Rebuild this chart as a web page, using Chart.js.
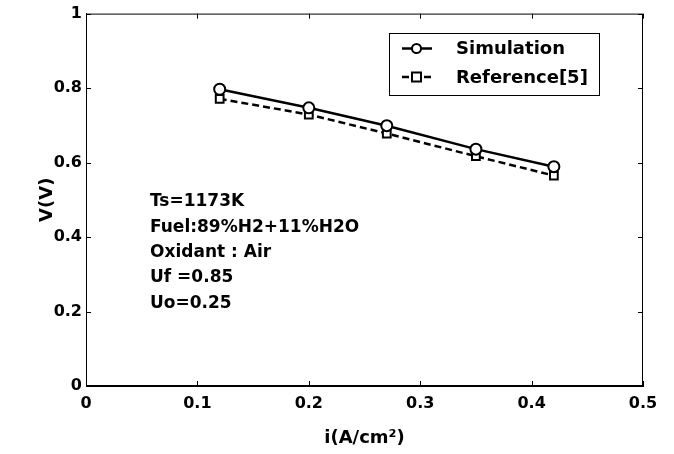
<!DOCTYPE html>
<html>
<head>
<meta charset="utf-8">
<script src="https://cdn.jsdelivr.net/npm/chart.js@4/dist/chart.umd.min.js"></script>
<style>
html,body{margin:0;padding:0;background:#fff;}
#wrap{width:674px;height:454px;}
</style>
</head>
<body>
<div id="wrap"><canvas id="c" width="674" height="454"></canvas></div>
<script>
const currentDensity = [0.12, 0.2, 0.27, 0.35, 0.42];
const simulationV = [0.797, 0.747, 0.699, 0.636, 0.589];
const referenceV = [0.771, 0.729, 0.678, 0.617, 0.565];
const xTickValues = [0, 0.1, 0.2, 0.3, 0.4, 0.5];
const xTickLabels = ['0', '0.1', '0.2', '0.3', '0.4', '0.5'];
const yTickValues = [0, 0.2, 0.4, 0.6, 0.8, 1];
const yTickLabels = ['0', '0.2', '0.4', '0.6', '0.8', '1'];
const seriesNames = ['Simulation', 'Reference[5]'];
const annotationLines = ['Ts=1173K', 'Fuel:89%H2+11%H2O', 'Oxidant : Air', 'Uf =0.85', 'Uo=0.25'];

const FONT = '"DejaVu Sans", sans-serif';

function labelFor(values, labels, v) {
  for (let i = 0; i < values.length; i++) if (Math.abs(values[i] - v) < 1e-9) return labels[i];
  return '';
}

const framePlugin = {
  id: 'frame',
  afterDatasetsDraw(chart) {
    const ctx = chart.ctx, a = chart.chartArea;
    const xs = chart.scales.x, ys = chart.scales.y;
    ctx.save();
    ctx.strokeStyle = '#000';
    ctx.lineWidth = 1;
    ctx.strokeRect(a.left + 0.5, a.top + 0.5, a.right - a.left - 1, a.bottom - a.top - 1);
    const L = 5;
    ctx.beginPath();
    xTickValues.forEach(v => {
      const px = Math.round(xs.getPixelForValue(v)) + 0.5;
      ctx.moveTo(px, a.bottom); ctx.lineTo(px, a.bottom - L);
      ctx.moveTo(px, a.top); ctx.lineTo(px, a.top + L);
    });
    yTickValues.forEach(v => {
      const py = Math.round(ys.getPixelForValue(v)) + 0.5;
      ctx.moveTo(a.left, py); ctx.lineTo(a.left + L, py);
      ctx.moveTo(a.right, py); ctx.lineTo(a.right - L, py);
    });
    ctx.stroke();
    ctx.restore();
  },
  afterDraw(chart) {
    const ctx = chart.ctx;
    ctx.save();
    ctx.fillStyle = '#000';
    ctx.font = 'bold 17px ' + FONT;
    ctx.textBaseline = 'middle';
    ctx.textAlign = 'left';
    annotationLines.forEach((t, i) => {
      ctx.fillText(t, 150, 202 + i * 25.3);
    });
    const bx = 389, by = 33, bw = 210, bh = 62;
    ctx.fillStyle = '#fff';
    ctx.fillRect(bx, by, bw, bh);
    ctx.strokeStyle = '#000';
    ctx.lineWidth = 1;
    ctx.strokeRect(bx + 0.5, by + 0.5, bw, bh);
    const rows = [48.5, 77];
    chart.data.datasets.forEach((ds, i) => {
      const y = rows[i];
      ctx.strokeStyle = '#000';
      ctx.lineWidth = 2.5;
      ctx.setLineDash(ds.borderDash || []);
      ctx.beginPath();
      ctx.moveTo(402, y); ctx.lineTo(432, y);
      ctx.stroke();
      ctx.setLineDash([]);
      ctx.lineWidth = 2;
      ctx.fillStyle = '#fff';
      if (ds.pointStyle === 'rect') {
        ctx.fillRect(412, y - 4.5, 9, 9);
        ctx.strokeRect(412, y - 4.5, 9, 9);
      } else {
        ctx.beginPath();
        ctx.arc(416.5, y, 4.5, 0, Math.PI * 2);
        ctx.fill(); ctx.stroke();
      }
      ctx.fillStyle = '#000';
      ctx.font = 'bold 18px ' + FONT;
      ctx.textBaseline = 'middle';
      ctx.fillText(ds.label, 456, y + 1);
    });
    ctx.restore();
  }
};

new Chart(document.getElementById('c'), {
  type: 'line',
  data: {
    datasets: [
      {
        label: seriesNames[0],
        data: currentDensity.map((x, i) => ({x: x, y: simulationV[i]})),
        borderColor: '#000',
        borderWidth: 2.5,
        pointStyle: 'circle',
        pointRadius: 5.5,
        pointBorderWidth: 2,
        pointBackgroundColor: '#fff',
        pointBorderColor: '#000',
        tension: 0,
        fill: false
      },
      {
        label: seriesNames[1],
        data: currentDensity.map((x, i) => ({x: x, y: referenceV[i]})),
        borderColor: '#000',
        borderWidth: 2.5,
        borderDash: [7, 4],
        pointStyle: 'rect',
        pointRadius: 5.5,
        pointBorderWidth: 2,
        pointBackgroundColor: '#fff',
        pointBorderColor: '#000',
        tension: 0,
        fill: false
      }
    ]
  },
  options: {
    responsive: false,
    animation: false,
    events: [],
    layout: {padding: {top: 11, right: 31, left: 37, bottom: 0}},
    plugins: {legend: {display: false}, tooltip: {enabled: false}},
    scales: {
      x: {
        type: 'linear',
        min: 0, max: 0.5,
        afterBuildTicks(s) { s.ticks = xTickValues.map(v => ({value: v})); },
        afterFit(s) { s.height = 68; },
        ticks: {
          color: '#000',
          font: {family: FONT, size: 16, weight: 'bold'},
          padding: 8,
          maxRotation: 0,
          callback: v => labelFor(xTickValues, xTickLabels, v)
        },
        grid: {drawOnChartArea: false, drawTicks: false},
        border: {display: true, color: '#000', width: 1},
        title: {
          display: true,
          text: 'i(A/cm\u00B2)',
          color: '#000',
          font: {family: FONT, size: 18, weight: 'bold'},
          padding: {top: 0, bottom: 5}
        }
      },
      y: {
        type: 'linear',
        min: 0, max: 1,
        afterBuildTicks(s) { s.ticks = yTickValues.map(v => ({value: v})); },
        afterFit(s) { s.width = 49; },
        ticks: {
          color: '#000',
          font: {family: FONT, size: 16, weight: 'bold'},
          padding: 4,
          callback: v => labelFor(yTickValues, yTickLabels, v)
        },
        grid: {drawOnChartArea: false, drawTicks: false},
        border: {display: true, color: '#000', width: 1},
        title: {
          display: true,
          text: 'V(V)',
          color: '#000',
          font: {family: FONT, size: 18, weight: 'bold'},
          padding: {top: 0, bottom: 0}
        }
      }
    }
  },
  plugins: [framePlugin]
});
</script>
</body>
</html>
